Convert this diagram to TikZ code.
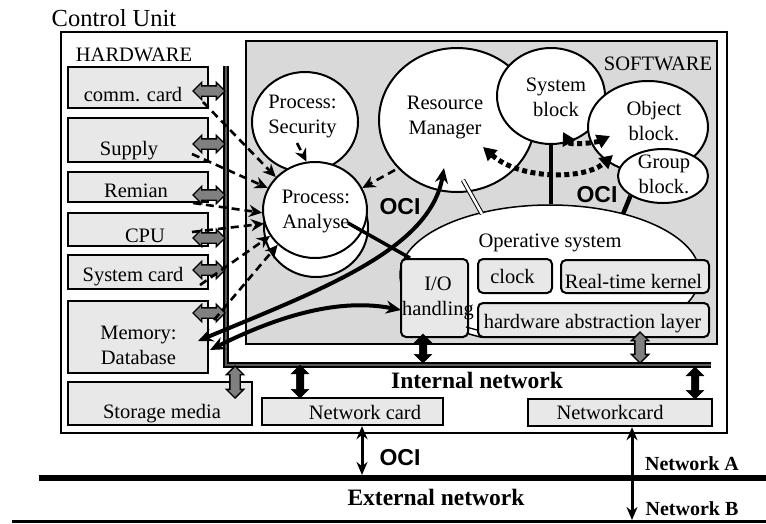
\documentclass[tikz,border=0pt]{standalone}
\usepackage{fontspec}
\setmainfont{Liberation Serif}
\newfontfamily\ocifont{Liberation Sans}
\usetikzlibrary{arrows.meta,shapes.geometric,shapes.arrows,calc}
\definecolor{swgray}{HTML}{D9D9D9}
\definecolor{hwgray}{HTML}{E8E8E8}
\definecolor{argray}{HTML}{808080}
\begin{document}
\begin{tikzpicture}[x=1pt,y=-1pt,
  txt/.style={inner sep=0pt, font=\fontsize{20.5}{25}\selectfont, anchor=base},
  mtxt/.style={inner sep=0pt, font=\fontsize{20.5}{25}\selectfont, align=center, anchor=north},
  btxt/.style={inner sep=0pt, font=\bfseries\fontsize{23.5}{26}\selectfont, anchor=base},
  ocit/.style={inner sep=0pt, font=\ocifont\bfseries\fontsize{23}{24}\selectfont, anchor=base},
  hwbox/.style={draw, line width=2.4pt, fill=hwgray, inner sep=0pt},
  rbox/.style={draw, line width=2pt, fill=hwgray, rounded corners=5pt, inner sep=0pt},
  bubble/.style={ellipse, draw, line width=2pt, fill=white, inner sep=0pt},
  garr/.style={double arrow, draw=black, line width=1.4pt, fill=argray, inner sep=4.5pt, double arrow head extend=3.5pt, minimum height=32pt},
  barr/.style={double arrow, draw=black, line width=0.5pt, fill=black, inner sep=3.5pt, double arrow head extend=5pt, shape border rotate=90},
  dsh/.style={line width=2.6pt, dash pattern=on 8pt off 5pt, -{Stealth[length=13pt,width=12pt]}},
  dots/.style={line width=5pt, dash pattern=on 5pt off 3.5pt, {Triangle[length=13pt,width=14pt]}-{Triangle[length=13pt,width=14pt]}},
  oci/.style={line width=4pt, {Stealth[length=15pt,width=13pt]}-{Stealth[length=15pt,width=13pt]}},
  thinarr/.style={line width=3pt, {Stealth[length=13pt,width=11pt]}-{Stealth[length=13pt,width=11pt]}},
  bus/.style={draw, line width=2.4pt, double=black!65, double distance=1.2pt}
]
\useasboundingbox (0,0) rectangle (766,523);

% frames
\node[draw, line width=2.6pt, minimum width=666, minimum height=401, inner sep=0pt] (cubox) at (394,232.5) {};
\node[draw, line width=2.6pt, fill=swgray, minimum width=471, minimum height=303, inner sep=0pt] (sw) at (481.5,192.5) {};

% operative system blob
\begin{scope}
  \clip (246,41) rectangle (717,337);
  \node[bubble, line width=1.5pt, minimum width=300, minimum height=140] (os) at (550,275) {};
\end{scope}

% software bubbles
\node[bubble, minimum width=106, minimum height=100] (sec) at (305,122) {};
\node[bubble, minimum width=156, minimum height=144] (rm) at (457,120) {};
\node[bubble, minimum width=108, minimum height=96] (sysb) at (551,96) {};
\node[bubble, minimum width=120, minimum height=92] (obj) at (648,127) {};
\node[bubble, minimum width=90, minimum height=54] (grp) at (663,176) {};
\node[bubble, minimum width=104, minimum height=100] (anb) at (316,227) {};
\node[bubble, minimum width=104, minimum height=96] (an) at (315,210) {};

% OS parts
\node[rbox, minimum width=67, minimum height=78] (io) at (434.5,298) {};
\node[rbox, minimum width=74, minimum height=34] (clk) at (515,276) {};
\node[rbox, minimum width=148, minimum height=33] (rtk) at (635,276.5) {};
\node[rbox, minimum width=231, minimum height=34] (hal) at (593.5,320) {};

% hardware boxes
\node[hwbox, minimum width=140, minimum height=41] (comm) at (138,87.5) {};
\node[hwbox, minimum width=140, minimum height=44] (sup) at (138,140) {};
\node[hwbox, minimum width=140, minimum height=30] (rem) at (138,187) {};
\node[hwbox, minimum width=140, minimum height=33] (cpu) at (138,229.5) {};
\node[hwbox, minimum width=140, minimum height=34] (scard) at (138,272) {};
\node[hwbox, minimum width=140, minimum height=72] (mem) at (138,337) {};
\node[hwbox, minimum width=184, minimum height=43] (stor) at (160,403.5) {};
\node[hwbox, minimum width=181, minimum height=27] (nc1) at (352.5,411.5) {};
\node[hwbox, minimum width=184, minimum height=27] (nc2) at (620,412.5) {};

% bus
\coordinate (bustop) at (226,66);
\coordinate (buscorner) at (226,365);
\coordinate (busend) at (711,365);
\draw[bus] (bustop) -- (buscorner) -- (busend);

% texts
\node[txt, font=\fontsize{24.5}{28}\selectfont] (tcu) at (114,26) {Control Unit};
\node[txt] (thw) at (134,61) {HARDWARE};
\node[txt] (tsw) at (658,70) {SOFTWARE};
\node[txt] (tcomm) at (133,101) {comm. card};
\node[txt] (tsup) at (129,155) {Supply};
\node[txt] (trem) at (136,197) {Remian};
\node[txt] (tcpu) at (145,242) {CPU};
\node[txt] (tscard) at (133,281) {System card};
\node[mtxt] (tmem) at (138.5,325.5) {Memory:\\Database};
\node[txt] (tstor) at (162,418) {Storage media};
\node[txt] (tnc1) at (365,419) {Network card};
\node[txt] (tnc2) at (610,419) {Networkcard};
\node[mtxt] (tsec) at (302.5,94.5) {Process:\\Security};
\node[mtxt] (trm) at (445,95.5) {Resource\\Manager};
\node[mtxt] (tsysb) at (556,77.5) {System\\block};
\node[mtxt] (tobj) at (654,101.5) {Object\\block.};
\node[mtxt] (tgrp) at (664,154.5) {Group\\block.};
\node[mtxt] (tan) at (316,189.5) {Process:\\Analyse};
\node[txt] (tos) at (550,247) {Operative system};
\node[txt] (tclk) at (512.5,283) {clock};
\node[txt] (trtk) at (633.5,288) {Real-time kernel};
\node[txt] (thal) at (592.5,328) {hardware abstraction layer};
\node[mtxt] (tio) at (438,276.5) {I/O\\handling};
\node[btxt] (tint) at (477,388) {Internal network};
\node[btxt] (text) at (436,505) {External network};
\node[btxt, font=\bfseries\fontsize{20}{22}\selectfont] (tneta) at (692,470) {Network A};
\node[btxt, font=\bfseries\fontsize{20}{22}\selectfont] (tnetb) at (692,515) {Network B};
\node[ocit] (oci1) at (400,214) {OCI};
\node[ocit] (oci2) at (597,202) {OCI};
\node[ocit] (oci3) at (400,465) {OCI};

% gray double arrows hardware <-> bus
\node[garr] (ga1) at (209,91) {};
\node[garr] (ga2) at (209,144) {};
\node[garr] (ga3) at (209,195) {};
\node[garr] (ga4) at (209,238) {};
\node[garr] (ga5) at (209,270) {};
\node[garr] (ga6) at (209,313) {};
\node[garr, shape border rotate=90, minimum height=31pt] (ga7) at (640,347.5) {};
\node[garr, shape border rotate=90, minimum height=32pt] (ga8) at (235,382) {};

% black double arrows
\node[barr, minimum height=29pt] (ba1) at (423,348.5) {};
\node[barr, minimum height=33pt] (ba2) at (300,381.5) {};
\node[barr, minimum height=32pt] (ba3) at (695,383) {};

% dashed arrows to Process: Analyse
\coordinate (d1) at (203,102);
\coordinate (d2) at (192,154);
\coordinate (d3) at (193,203);
\coordinate (d4) at (192,232);
\coordinate (d5) at (200,285);
\coordinate (d6) at (214,320);
\coordinate (d7) at (297,143);
\coordinate (d8) at (395,170);
\draw[dsh] (d1) -- (an.140);
\draw[dsh] (d2) -- (an.155);
\draw[dsh] (d3) -- (an.183);
\draw[dsh] (d4) -- (an.195);
\draw[dsh] (d5) -- (an.210);
\draw[dsh] (d6) -- (an.223);
\draw[dsh] (d7) -- (an.100);
\draw[dsh] (d8) -- (an.25);

% solid links
\draw[line width=4.5pt] (sysb.south) -- (sysb.south |- os.north);
\coordinate (grpos) at (623,214);
\draw[line width=4.5pt] (grp.south west) -- (grpos);
\coordinate (rmos1) at (463,180);
\coordinate (rmos2) at (482,214);
\draw[double, line width=1pt, double distance=2.5pt] (rmos1) -- (rmos2);
\coordinate (anio) at (348,223);
\draw[line width=3.5pt] (anio) -- ($(io.north west)+(10,0)$);
\coordinate (iohal1) at (466,327);
\draw[line width=1.3pt] (iohal1) -- (hal.west |- 0,330);

% dotted arrows
\coordinate (dA) at (483,147);
\coordinate (dB) at (613,155);
\draw[dots] (dA) .. controls (520,180) and (585,180) .. (dB);
\coordinate (dC) at (563,132);
\coordinate (dD) at (610,136);
\draw[dots] (dC) .. controls (570,145) and (595,143) .. (dD);

% OCI curves
\coordinate (memA) at (198,341);
\coordinate (rmA) at (444,168);
\draw[oci] (memA) .. controls (320,290) and (430,250) .. (rmA);
\coordinate (memB) at (210,350);
\coordinate (ioB) at (401,310);
\draw[oci] (memB) .. controls (280,315) and (340,298) .. (ioB);

% external networks
\coordinate (netAl) at (39,477.5);
\coordinate (netAr) at (766,477.5);
\draw[line width=6pt] (netAl) -- (netAr);
\coordinate (netBl) at (12,521.5);
\coordinate (netBr) at (766,521.5);
\draw[line width=2.2pt] (netBl) -- (netBr);
\coordinate (extA) at (362,475);
\coordinate (extB) at (632,520);
\draw[thinarr] (nc1.south -| extA) -- (extA);
\draw[thinarr] (nc2.south -| extB) -- (extB);
\end{tikzpicture}
\end{document}
